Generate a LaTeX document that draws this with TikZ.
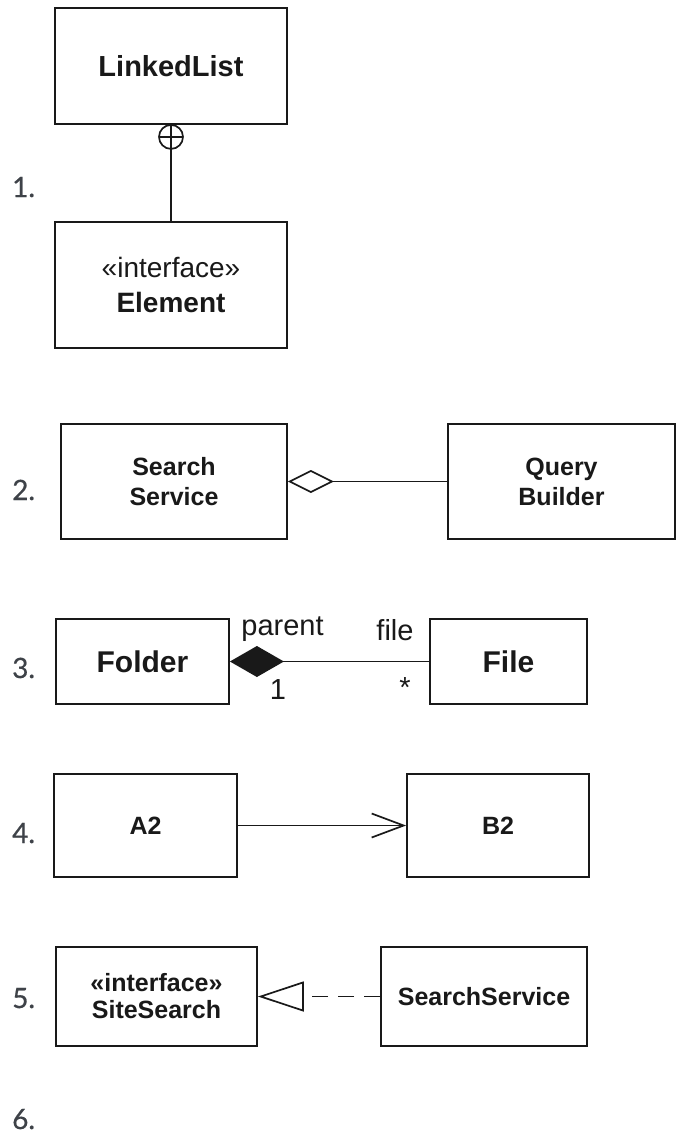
\documentclass[tikz,border=0pt]{standalone}
\usepackage{fontspec}
\setmainfont{Liberation Sans}
\newfontfamily\latof{Lato}[BoldFont=Lato, BoldFeatures={FakeBold=0.6}]
\usetikzlibrary{arrows.meta,calc}
\definecolor{ink}{RGB}{25,25,25}
\definecolor{numgray}{RGB}{62,66,72}
\begin{document}
\begin{tikzpicture}[x=1pt,y=-1pt,
  box/.style={draw=ink, line width=1.8pt, rectangle, inner sep=0pt, align=center, text=ink},
  num/.style={font=\latof\bfseries\fontsize{28}{28}\selectfont, text=numgray, anchor=base west, inner sep=0pt},
  conn/.style={draw=ink, line width=1.7pt},
  lbl/.style={font=\fontsize{29}{29}\selectfont, text=ink, inner sep=0pt, anchor=base}]
\useasboundingbox[fill=white] (0,0) rectangle (681,1134);

% 1. nesting
\node[box, minimum width=232pt, minimum height=116pt, font=\bfseries\fontsize{29}{29}\selectfont] (LL) at (171,66) {LinkedList};
\node[box, minimum width=232pt, minimum height=126pt, font=\fontsize{28}{35}\selectfont] (EL) at (171,285) {«interface»\\\textbf{Element}};
\coordinate (oc) at ($(LL.south)+(0,12)$);
\draw[conn] (LL.south) -- (EL.north);
\draw[conn] (oc) circle[radius=12pt];
\draw[conn] ($(oc)+(-12,0)$) -- ($(oc)+(12,0)$);

% 2. aggregation
\node[box, minimum width=226pt, minimum height=115pt, font=\bfseries\fontsize{25}{30}\selectfont] (SS) at (174,481.5) {Search\\Service};
\node[box, minimum width=227pt, minimum height=115pt, font=\bfseries\fontsize{25}{30}\selectfont] (QB) at (561.5,481.5) {Query\\Builder};
\draw[conn, -{Diamond[open, length=46pt, width=23pt]}] (QB.west) -- (SS.east);

% 3. composition
\node[box, minimum width=173pt, minimum height=85pt, font=\bfseries\fontsize{30}{30}\selectfont] (FO) at (142.5,661.5) {Folder};
\node[box, minimum width=157pt, minimum height=85pt, font=\bfseries\fontsize{30}{30}\selectfont] (FI) at (508.5,661.5) {File};
\draw[conn, -{Diamond[length=54pt, width=31pt]}] (FI.west) -- (FO.east);
\node[lbl] (pa) at (282.5,635) {parent};
\node[lbl] (fl) at (395,640) {file};
\node[lbl] (one) at (278,699) {1};
\node[lbl] (st) at (405,697) {*};

% 4. directed association
\node[box, minimum width=183pt, minimum height=103pt, font=\bfseries\fontsize{25}{25}\selectfont] (A2) at (145.5,825.5) {A2};
\node[box, minimum width=182pt, minimum height=103pt, font=\bfseries\fontsize{25}{25}\selectfont] (B2) at (498,825.5) {B2};
\draw[conn, -{Straight Barb[length=32pt, width=24pt]}] (A2.east) -- (B2.west);

% 5. realization
\node[box, minimum width=201pt, minimum height=99pt, font=\bfseries\fontsize{25}{27}\selectfont] (SI) at (156.5,996.5) {«interface»\\SiteSearch};
\node[box, minimum width=206pt, minimum height=99pt, font=\bfseries\fontsize{25}{25}\selectfont] (SE) at (484,996.5) {SearchService};
\draw[conn, dash pattern=on 16pt off 10pt, -{Triangle[open, length=46pt, width=30pt]}] (SE.west) -- (SI.east);

% numbers
\node[num] (n1) at (12,197) {1.};
\node[num] (n2) at (12,500) {2.};
\node[num] (n3) at (12,678) {3.};
\node[num] (n4) at (12,843) {4.};
\node[num] (n5) at (12,1008) {5.};
\node[num] (n6) at (12,1129) {6.};
\end{tikzpicture}
\end{document}
